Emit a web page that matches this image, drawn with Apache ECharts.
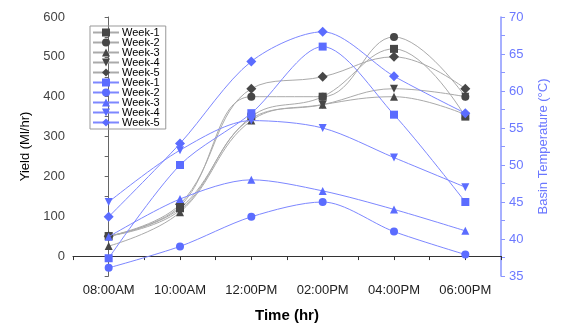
<!DOCTYPE html>
<html>
<head>
<meta charset="utf-8">
<script src="https://cdn.jsdelivr.net/npm/echarts@6/dist/echarts.min.js"></script>
<style>
  html, body { margin: 0; padding: 0; background: #fff; }
  #chart { width: 562px; height: 328px; }
</style>
</head>
<body>
<div id="chart"></div>
<script>
var times = ['08:00AM', '10:00AM', '12:00PM', '02:00PM', '04:00PM', '06:00PM'];
var weeks = ['Week-1', 'Week-2', 'Week-3', 'Week-4', 'Week-5'];

// yield (Ml/hr), left axis
var yield1 = [50, 120, 350, 400, 520, 350];
var yield2 = [50, 125, 400, 400, 550, 400];
var yield3 = [25, 110, 340, 380, 400, 355];
var yield4 = [50, 115, 345, 380, 420, 400];
var yield5 = [50, 130, 420, 450, 500, 420];

// basin temperature (C), right axis
var temp1 = [37.4, 50, 57, 66, 56.8, 45];
var temp2 = [36.1, 39, 43, 45, 41, 37.9];
var temp3 = [40.3, 45.4, 48, 46.5, 44, 41.1];
var temp4 = [45, 52, 56, 55, 51, 47];
var temp5 = [43, 52.9, 64, 68, 62, 57];

var yields = [yield1, yield2, yield3, yield4, yield5];
var temps = [temp1, temp2, temp3, temp4, temp5];
var marks = ['rect', 'circle', 'triangle', 'path://M0,0 L10,0 L5,10 Z', 'diamond'];
var sizes = [8, 8, 8, 8, 10];

function pts(arr) {
    return arr.map(function (v, i) { return [i, v]; });
}

var series = [];
yields.forEach(function (arr, k) {
    series.push({
        name: weeks[k],
        type: 'line',
        yAxisIndex: 0,
        smooth: 0.4,
        symbol: marks[k],
        symbolSize: sizes[k],
        itemStyle: { color: '#474747' },
        lineStyle: { color: '#aaaaaa', width: 1 },
        z: 2,
        data: pts(arr)
    });
});
temps.forEach(function (arr, k) {
    series.push({
        name: weeks[k] + ' ',
        type: 'line',
        yAxisIndex: 1,
        smooth: 0.3,
        symbol: marks[k],
        symbolSize: sizes[k],
        itemStyle: { color: '#5b6cff' },
        lineStyle: { color: '#7d87ff', width: 1 },
        z: 3,
        data: pts(arr)
    });
});

var legendData = weeks.concat(weeks.map(function (w) { return w + ' '; }));

var myChart = echarts.init(document.getElementById('chart'));
var option = {
    animation: false,
    backgroundColor: '#fff',
    textStyle: { fontFamily: 'Liberation Sans, Arial, sans-serif' },
    grid: { left: 73, right: 61, top: 17, bottom: 49 },
    legend: {
        orient: 'vertical',
        left: 90,
        top: 26,
        padding: [1, 3, 1, 2],
        itemGap: -1,
        itemWidth: 26,
        itemHeight: 10,
        borderColor: '#999',
        borderWidth: 1,
        data: legendData,
        textStyle: { color: '#000', fontSize: 11, padding: [0, 0, 0, -2] }
    },
    xAxis: {
        type: 'value',
        min: -0.5,
        max: 5.5,
        interval: 0.5,
        name: 'Time (hr)',
        nameLocation: 'middle',
        nameGap: 32,
        nameTextStyle: { color: '#000', fontSize: 15, fontWeight: 'bold' },
        splitLine: { show: false },
        axisLine: { lineStyle: { color: '#333' } },
        axisTick: { length: 4, lineStyle: { color: '#333' } },
        axisLabel: {
            color: '#222',
            fontSize: 13,
            margin: 8,
            formatter: function (v) {
                return Number.isInteger(v) && v >= 0 ? times[v] : '';
            }
        }
    },
    yAxis: [
        {
            type: 'value',
            min: -50,
            max: 600,
            interval: 50,
            name: 'Yield (Ml/hr)',
            nameLocation: 'middle',
            nameGap: 36,
            nameTextStyle: { color: '#000', fontSize: 13 },
            splitLine: { show: false },
            axisLine: { show: true, lineStyle: { color: '#666' } },
            axisTick: { length: 4, lineStyle: { color: '#666' } },
            axisLabel: {
                color: '#444',
                fontSize: 13,
                formatter: function (v) { return v % 100 === 0 ? v : ''; }
            }
        },
        {
            type: 'value',
            min: 35,
            max: 70,
            interval: 2.5,
            position: 'right',
            name: 'Basin Temperature (°C)',
            nameLocation: 'middle',
            nameGap: 36,
            nameRotate: 90,
            nameTextStyle: { color: '#6b78ff', fontSize: 13 },
            splitLine: { show: false },
            axisLine: { show: true, lineStyle: { color: '#8a96ff', width: 1.5 } },
            axisTick: { length: 4, lineStyle: { color: '#8a96ff' } },
            axisLabel: {
                color: '#6b78ff',
                fontSize: 13,
                formatter: function (v) { return v % 5 === 0 ? v : ''; }
            }
        }
    ],
    series: series
};
myChart.setOption(option);
window.addEventListener('resize', function () {
    myChart.resize();
});
</script>
</body>
</html>
